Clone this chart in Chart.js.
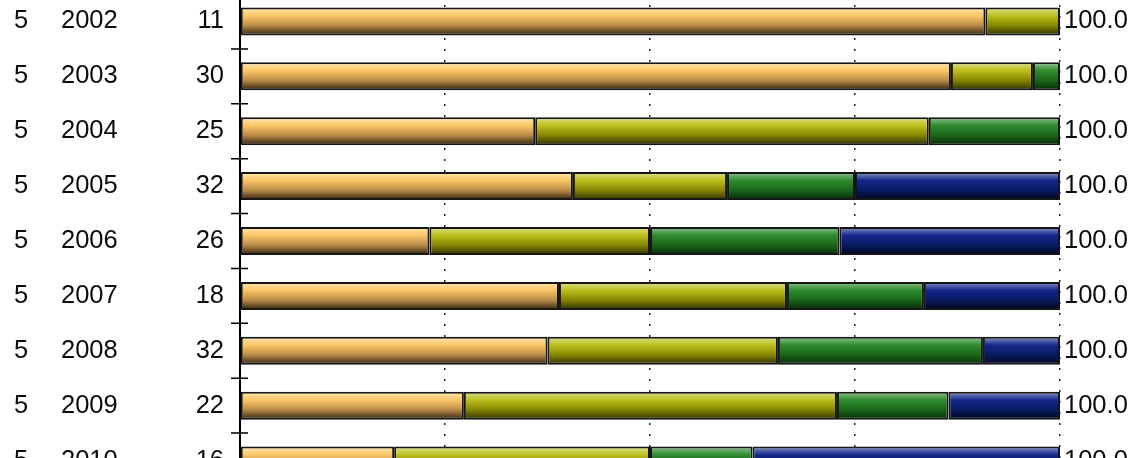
<!DOCTYPE html>
<html>
<head>
<meta charset="utf-8">
<script src="https://cdn.jsdelivr.net/npm/chart.js@4/dist/chart.umd.min.js"></script>
<style>
  html, body { margin: 0; padding: 0; background: #fff; overflow: hidden; }
  #chart { position: absolute; left: 0; top: -6px; }
</style>
</head>
<body>
<canvas id="chart" width="1147" height="494"></canvas>
<script>
// rows, top to bottom
const groups = ['5', '5', '5', '5', '5', '5', '5', '5', '5'];
const years = ['2002', '2003', '2004', '2005', '2006', '2007', '2008', '2009', '2010'];
const counts = ['11', '30', '25', '32', '26', '18', '32', '22', '16'];
const totals = ['100.0', '100.0', '100.0', '100.0', '100.0', '100.0', '100.0', '100.0', '100.0'];

// share of each row, in percent
const part1 = [90.9, 86.7, 36.0, 40.6, 23.1, 38.9, 37.5, 27.3, 18.8];
const part2 = [9.1, 10.0, 48.0, 18.8, 26.9, 27.8, 28.1, 45.5, 31.2];
const part3 = [null, 3.3, 16.0, 15.6, 23.1, 16.7, 25.0, 13.6, 12.5];
const part4 = [null, null, null, 25.0, 26.9, 16.6, 9.4, 13.6, 37.5];

const BAR_PCT = 0.51;
const FONT = '25.5px "Liberation Sans", Arial, sans-serif';

// vertical shading of every bar, light on top, dark at the bottom
const shade = (stops) => (c) => {
    const chart = c.chart;
    const y = chart.scales.y;
    if (!y || c.dataIndex === undefined) return stops[1][1];
    const pitch = (y.bottom - y.top) / years.length;
    const h = pitch * BAR_PCT;
    const cy = y.getPixelForValue(c.dataIndex);
    if (!Number.isFinite(cy) || !Number.isFinite(h) || h <= 0) return stops[1][1];
    const g = chart.ctx.createLinearGradient(0, cy - h / 2, 0, cy + h / 2);
    stops.forEach(([o, col]) => g.addColorStop(o, col));
    return g;
};

const orange = [[0, '#FFE6B4'], [0.3, '#FBC664'], [0.65, '#B88A48'], [1, '#2E200C']];
const olive = [[0, '#DDE08E'], [0.3, '#BCBE1C'], [0.65, '#858600'], [1, '#2C2C00']];
const green = [[0, '#92C292'], [0.3, '#2E8C2E'], [0.65, '#1A661A'], [1, '#062806']];
const navy = [[0, '#8A96C8'], [0.3, '#14288A'], [0.65, '#081A62'], [1, '#000418']];

const mkSet = (data, stops) => ({
    data,
    backgroundColor: shade(stops),
    borderColor: '#161616',
    borderWidth: 2,
    borderSkipped: false,
    barPercentage: BAR_PCT,
    categoryPercentage: 1,
});

const sideText = {
    id: 'sideText',
    afterDraw(chart) {
        const { ctx, chartArea } = chart;
        const y = chart.scales.y;
        ctx.save();

        // axis line and row separators
        ctx.strokeStyle = '#000';
        ctx.lineWidth = 2;
        ctx.beginPath();
        ctx.moveTo(chartArea.left, chartArea.top);
        ctx.lineTo(chartArea.left, chartArea.bottom);
        ctx.stroke();
        ctx.lineWidth = 1.5;
        ctx.beginPath();
        for (let i = 0; i < years.length - 1; i++) {
            const b = (y.getPixelForValue(i) + y.getPixelForValue(i + 1)) / 2;
            ctx.moveTo(chartArea.left - 9, b);
            ctx.lineTo(chartArea.left + 8, b);
        }
        ctx.stroke();

        ctx.font = FONT;
        ctx.fillStyle = '#0c0c0c';
        ctx.textBaseline = 'middle';
        years.forEach((yr, i) => {
            const py = y.getPixelForValue(i);
            ctx.textAlign = 'left';
            ctx.fillText(groups[i], 14, py);
            ctx.fillText(yr, 61, py);
            ctx.fillText(totals[i], chartArea.right + 4, py);
            ctx.textAlign = 'right';
            ctx.fillText(counts[i], 224, py);
        });
        ctx.restore();
    }
};

new Chart(document.getElementById('chart').getContext('2d'), {
    type: 'bar',
    data: {
        labels: years,
        datasets: [
            mkSet(part1, orange),
            mkSet(part2, olive),
            mkSet(part3, green),
            mkSet(part4, navy),
        ],
    },
    options: {
        indexAxis: 'y',
        responsive: false,
        animation: false,
        layout: { padding: { left: 240, right: 87, top: 0, bottom: 0 } },
        scales: {
            x: {
                stacked: true,
                min: 0,
                max: 100,
                ticks: { display: false, stepSize: 25 },
                grid: {
                    drawTicks: false,
                    lineWidth: 1.5,
                    color: (c) => c.tick && c.tick.value === 0 ? 'rgba(0,0,0,0)' : '#222',
                },
                border: { display: false, dash: [2, 9] },
            },
            y: {
                stacked: true,
                display: false,
            },
        },
        plugins: {
            legend: { display: false },
            tooltip: { enabled: false },
        },
    },
    plugins: [sideText],
});
</script>
</body>
</html>
